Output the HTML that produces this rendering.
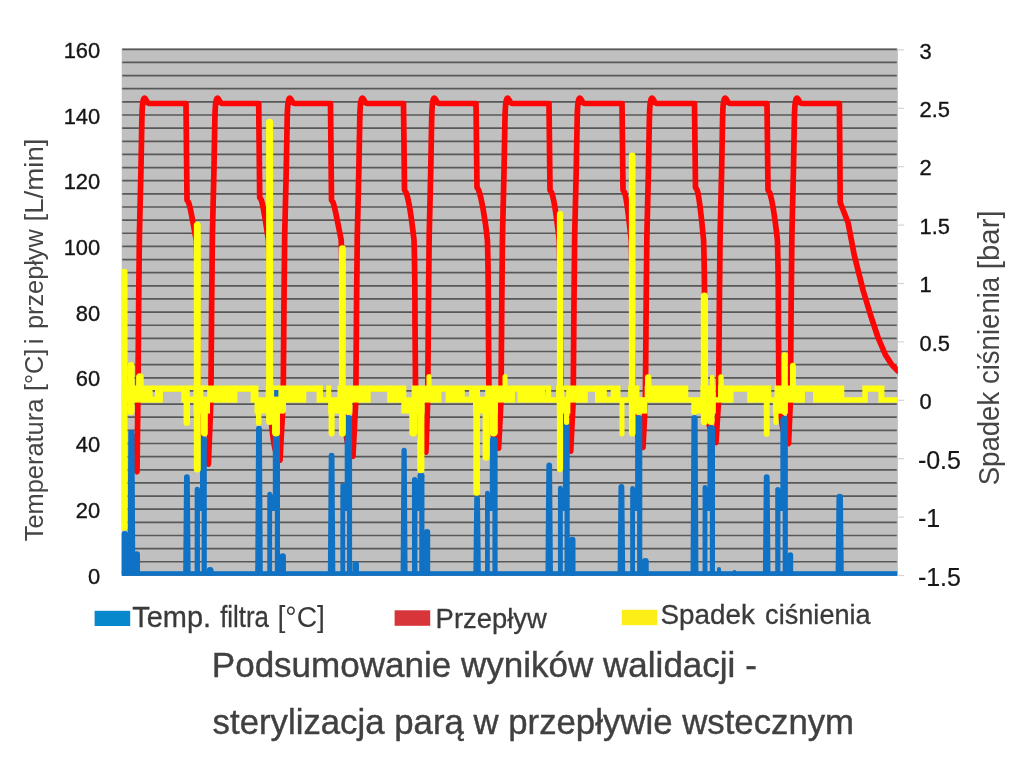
<!DOCTYPE html>
<html lang="pl">
<head>
<meta charset="utf-8">
<title>Podsumowanie wyników walidacji - sterylizacja parą w przepływie wstecznym</title>
<style>
html,body{margin:0;padding:0;background:#fff;}
body{width:1024px;height:782px;overflow:hidden;position:relative;font-family:"Liberation Sans",sans-serif;}
svg{position:absolute;left:0;top:0;display:block;}
text{font-family:"Liberation Sans",sans-serif;}
</style>
</head>
<body>
<svg width="1024" height="782" viewBox="0 0 1024 782">
<rect x="0" y="0" width="1024" height="782" fill="#ffffff"/>
<rect x="121.7" y="48.5" width="776.2" height="527.1" fill="#c0c0c0"/>
<g stroke="#585858" stroke-width="1.7">
<line x1="122.2" x2="896.8" y1="49.30" y2="49.30"/>
<line x1="122.2" x2="896.8" y1="62.44" y2="62.44"/>
<line x1="122.2" x2="896.8" y1="75.58" y2="75.58"/>
<line x1="122.2" x2="896.8" y1="88.72" y2="88.72"/>
<line x1="122.2" x2="896.8" y1="101.86" y2="101.86"/>
<line x1="122.2" x2="896.8" y1="115.00" y2="115.00"/>
<line x1="122.2" x2="896.8" y1="128.14" y2="128.14"/>
<line x1="122.2" x2="896.8" y1="141.28" y2="141.28"/>
<line x1="122.2" x2="896.8" y1="154.42" y2="154.42"/>
<line x1="122.2" x2="896.8" y1="167.56" y2="167.56"/>
<line x1="122.2" x2="896.8" y1="180.70" y2="180.70"/>
<line x1="122.2" x2="896.8" y1="193.84" y2="193.84"/>
<line x1="122.2" x2="896.8" y1="206.98" y2="206.98"/>
<line x1="122.2" x2="896.8" y1="220.12" y2="220.12"/>
<line x1="122.2" x2="896.8" y1="233.26" y2="233.26"/>
<line x1="122.2" x2="896.8" y1="246.40" y2="246.40"/>
<line x1="122.2" x2="896.8" y1="259.54" y2="259.54"/>
<line x1="122.2" x2="896.8" y1="272.68" y2="272.68"/>
<line x1="122.2" x2="896.8" y1="285.82" y2="285.82"/>
<line x1="122.2" x2="896.8" y1="298.96" y2="298.96"/>
<line x1="122.2" x2="896.8" y1="312.10" y2="312.10"/>
<line x1="122.2" x2="896.8" y1="325.24" y2="325.24"/>
<line x1="122.2" x2="896.8" y1="338.38" y2="338.38"/>
<line x1="122.2" x2="896.8" y1="351.52" y2="351.52"/>
<line x1="122.2" x2="896.8" y1="364.66" y2="364.66"/>
<line x1="122.2" x2="896.8" y1="377.80" y2="377.80"/>
<line x1="122.2" x2="896.8" y1="390.94" y2="390.94"/>
<line x1="122.2" x2="896.8" y1="404.08" y2="404.08"/>
<line x1="122.2" x2="896.8" y1="417.22" y2="417.22"/>
<line x1="122.2" x2="896.8" y1="430.36" y2="430.36"/>
<line x1="122.2" x2="896.8" y1="443.50" y2="443.50"/>
<line x1="122.2" x2="896.8" y1="456.64" y2="456.64"/>
<line x1="122.2" x2="896.8" y1="469.78" y2="469.78"/>
<line x1="122.2" x2="896.8" y1="482.92" y2="482.92"/>
<line x1="122.2" x2="896.8" y1="496.06" y2="496.06"/>
<line x1="122.2" x2="896.8" y1="509.20" y2="509.20"/>
<line x1="122.2" x2="896.8" y1="522.34" y2="522.34"/>
<line x1="122.2" x2="896.8" y1="535.48" y2="535.48"/>
<line x1="122.2" x2="896.8" y1="548.62" y2="548.62"/>
<line x1="122.2" x2="896.8" y1="561.76" y2="561.76"/>
<line x1="122.2" x2="896.8" y1="574.90" y2="574.90"/>
</g>
<g stroke="#d4d4d4" stroke-width="1.2">
<line x1="897.8" x2="904.3" y1="49.9" y2="49.9"/>
<line x1="897.8" x2="904.3" y1="108.3" y2="108.3"/>
<line x1="897.8" x2="904.3" y1="166.7" y2="166.7"/>
<line x1="897.8" x2="904.3" y1="225.1" y2="225.1"/>
<line x1="897.8" x2="904.3" y1="283.5" y2="283.5"/>
<line x1="897.8" x2="904.3" y1="341.9" y2="341.9"/>
<line x1="897.8" x2="904.3" y1="400.3" y2="400.3"/>
<line x1="897.8" x2="904.3" y1="458.7" y2="458.7"/>
<line x1="897.8" x2="904.3" y1="517.1" y2="517.1"/>
<line x1="897.8" x2="904.3" y1="575.5" y2="575.5"/>
</g>
<clipPath id="plotclip"><rect x="121.2" y="48.3" width="776.5999999999999" height="527.6"/></clipPath>
<g clip-path="url(#plotclip)">
<path d="M132.6,436 C133.2,452 134.5,466 137.0,471.7 L137.9,400 L138.7,300 L139.4,235 L140.9,172 L141.9,118 C142.2,104 142.9,98.1 144.5,98.1 C146.0,98.1 146.7,103.5 149.5,103.5 L186.0,103.5 L187.0,200.0 L188.6,202.5 C191.0,209.0 194.1,230.0 196.3,240 C197.1,265 197.3,295 197.3,323 L197.8,385 C198.5,436.0 203.4,461.0 208.4,464.0 L210.9,400 L211.7,300 L212.4,235 L213.9,172 L214.9,118 C215.2,104 215.9,98.1 217.5,98.1 C219.0,98.1 219.7,103.5 222.5,103.5 L258.7,103.5 L259.7,197.5 L261.3,200.0 C263.7,206.5 266.3,227.5 268.5,240 C269.3,265 269.5,295 269.5,323 L270.0,385 C270.7,432.0 275.0,457.0 280.0,460.0 L283.2,400 L284.0,300 L284.7,235 L286.2,172 L287.2,118 C287.5,104 288.2,98.1 289.8,98.1 C291.3,98.1 292.0,103.5 294.8,103.5 L330.5,103.5 L331.5,200.0 L333.1,202.5 C335.5,209.0 339.0,230.0 341.2,240 C342.0,265 342.2,295 342.2,323 L342.7,385 C343.4,428.0 348.0,453.0 353.0,456.0 L355.8,400 L356.6,300 L357.3,235 L358.8,172 L359.8,118 C360.1,104 360.8,98.1 362.4,98.1 C363.9,98.1 364.6,103.5 367.4,103.5 L403.5,103.5 L404.5,190.0 L406.1,192.5 C408.5,199.0 411.8,220.0 414.0,240 C414.8,265 415.0,295 415.0,323 L415.5,385 C416.2,424.0 420.9,449.0 425.9,452.0 L427.7,400 L428.5,300 L429.2,235 L430.7,172 L431.7,118 C432.0,104 432.7,98.1 434.3,98.1 C435.8,98.1 436.5,103.5 439.3,103.5 L476.0,103.5 L477.0,187.5 L478.6,190.0 C481.0,196.5 485.2,217.5 487.4,240 C488.2,265 488.4,295 488.4,323 L488.9,385 C489.6,420.0 493.6,445.0 498.6,448.0 L501.0,400 L501.8,300 L502.5,235 L504.0,172 L505.0,118 C505.3,104 506.0,98.1 507.6,98.1 C509.1,98.1 509.8,103.5 512.6,103.5 L549.0,103.5 L550.0,190.0 L551.6,192.5 C554.0,199.0 557.0,220.0 559.2,240 C560.0,265 560.2,295 560.2,323 L560.7,385 C561.4,423.0 565.7,448.0 570.7,451.0 L573.2,400 L574.0,300 L574.7,235 L576.2,172 L577.2,118 C577.5,104 578.2,98.1 579.8,98.1 C581.3,98.1 582.0,103.5 584.8,103.5 L622.0,103.5 L623.0,190.0 L624.6,192.5 C627.0,199.0 629.0,220.0 631.2,240 C632.0,265 632.2,295 632.2,323 L632.7,385 C633.4,419.3 638.0,444.3 643.0,447.3 L645.4,400 L646.2,300 L646.9,235 L648.4,172 L649.4,118 C649.7,104 650.4,98.1 652.0,98.1 C653.5,98.1 654.2,103.5 657.0,103.5 L694.5,103.5 L695.5,187.5 L697.1,190.0 C699.5,196.5 701.4,217.5 703.6,240 C704.4,265 704.6,295 704.6,323 L705.1,385 C705.8,414.4 711.0,439.4 716.0,442.4 L718.6,400 L719.4,300 L720.1,235 L721.6,172 L722.6,118 C722.9,104 723.6,98.1 725.2,98.1 C726.7,98.1 727.4,103.5 730.2,103.5 L767.0,103.5 L768.0,190.0 L769.6,192.5 C772.0,199.0 775.2,220.0 777.4,240 C778.2,265 778.4,295 778.4,323 L778.9,385 C779.6,415.4 783.6,440.4 788.6,443.4 L790.4,400 L791.2,300 L791.9,235 L793.4,172 L794.4,118 C794.7,104 795.4,98.1 797.0,98.1 C798.5,98.1 799.2,103.5 802.0,103.5 L839.4,103.5 L840.2,202.5 L848,222.5 L854.25,255 L863,290 L870.5,315 L878,337.5 L885.5,355 L892,365 L898.5,371.5" fill="none" stroke="#fb0505" stroke-width="5.7" stroke-linejoin="round" stroke-linecap="round"/>
<g stroke="#1072c4" stroke-linecap="round">
<line x1="124.8" x2="124.8" y1="534.3" y2="573" stroke-width="6.6"/>
<path d="M127.45,573 L128.30,432.8 A3.10,3.10 0 0 1 134.50,432.8 L135.35,573 Z" fill="#1072c4" stroke="none"/>
<line x1="136.9" x2="136.9" y1="554.4" y2="573" stroke-width="6.2"/>
<path d="M183.15,573 L184.00,477.1 A2.90,2.90 0 0 1 189.80,477.1 L190.65,573 Z" fill="#1072c4" stroke="none"/>
<line x1="197.3" x2="197.3" y1="489.5" y2="573" stroke-width="5.3"/>
<line x1="203.4" x2="203.4" y1="439.4" y2="511" stroke-width="6.8" stroke-linecap="butt"/>
<circle cx="203.4" cy="439.4" r="3.40" fill="#1072c4" stroke="none"/>
<line x1="204.20" x2="204.20" y1="508" y2="573" stroke-width="5.2" stroke-linecap="butt"/>
<line x1="210.2" x2="210.2" y1="570.4" y2="573" stroke-width="6.8"/>
<path d="M255.20,573 L256.05,428.8 A2.95,2.95 0 0 1 261.95,428.8 L262.80,573 Z" fill="#1072c4" stroke="none"/>
<line x1="269.7" x2="269.7" y1="494.2" y2="573" stroke-width="4.9"/>
<line x1="276.4" x2="276.4" y1="393.3" y2="511" stroke-width="7.2" stroke-linecap="butt"/>
<circle cx="276.4" cy="393.3" r="3.60" fill="#1072c4" stroke="none"/>
<line x1="277.40" x2="277.40" y1="508" y2="573" stroke-width="5.2" stroke-linecap="butt"/>
<line x1="282.7" x2="282.7" y1="556.5" y2="573" stroke-width="6.5"/>
<path d="M327.85,573 L328.70,455.6 A2.90,2.90 0 0 1 334.50,455.6 L335.35,573 Z" fill="#1072c4" stroke="none"/>
<line x1="342.8" x2="342.8" y1="485.4" y2="573" stroke-width="4.9"/>
<line x1="348.4" x2="348.4" y1="418.7" y2="511" stroke-width="7.4" stroke-linecap="butt"/>
<circle cx="348.4" cy="418.7" r="3.70" fill="#1072c4" stroke="none"/>
<line x1="349.50" x2="349.50" y1="508" y2="573" stroke-width="5.2" stroke-linecap="butt"/>
<line x1="355.7" x2="355.7" y1="564.3" y2="573" stroke-width="6.6"/>
<path d="M400.60,573 L401.45,450.4 A2.65,2.65 0 0 1 406.75,450.4 L407.60,573 Z" fill="#1072c4" stroke="none"/>
<line x1="414.7" x2="414.7" y1="479.8" y2="573" stroke-width="5.5"/>
<line x1="421" x2="421" y1="475.6" y2="511" stroke-width="6.9" stroke-linecap="butt"/>
<circle cx="421" cy="475.6" r="3.45" fill="#1072c4" stroke="none"/>
<line x1="421.85" x2="421.85" y1="508" y2="573" stroke-width="5.2" stroke-linecap="butt"/>
<line x1="427" x2="427" y1="532.1" y2="573" stroke-width="6.4"/>
<path d="M473.35,573 L474.20,498.6 A2.90,2.90 0 0 1 480.00,498.6 L480.85,573 Z" fill="#1072c4" stroke="none"/>
<line x1="487.4" x2="487.4" y1="493.2" y2="573" stroke-width="4.8"/>
<line x1="493.7" x2="493.7" y1="440.5" y2="511" stroke-width="7.8" stroke-linecap="butt"/>
<circle cx="493.7" cy="440.5" r="3.90" fill="#1072c4" stroke="none"/>
<line x1="495.00" x2="495.00" y1="508" y2="573" stroke-width="5.2" stroke-linecap="butt"/>
<path d="M545.45,573 L546.30,465.4 A2.90,2.90 0 0 1 552.10,465.4 L552.95,573 Z" fill="#1072c4" stroke="none"/>
<line x1="560.4" x2="560.4" y1="488.3" y2="573" stroke-width="4.9"/>
<line x1="566.3" x2="566.3" y1="426.4" y2="511" stroke-width="6.8" stroke-linecap="butt"/>
<circle cx="566.3" cy="426.4" r="3.40" fill="#1072c4" stroke="none"/>
<line x1="567.10" x2="567.10" y1="508" y2="573" stroke-width="5.2" stroke-linecap="butt"/>
<line x1="572.3" x2="572.3" y1="539.9" y2="573" stroke-width="6.4"/>
<path d="M617.60,573 L618.45,486.9 A2.95,2.95 0 0 1 624.35,486.9 L625.20,573 Z" fill="#1072c4" stroke="none"/>
<line x1="632.6" x2="632.6" y1="488.4" y2="573" stroke-width="4.9"/>
<line x1="638.7" x2="638.7" y1="418.6" y2="511" stroke-width="7.2" stroke-linecap="butt"/>
<circle cx="638.7" cy="418.6" r="3.60" fill="#1072c4" stroke="none"/>
<line x1="639.70" x2="639.70" y1="508" y2="573" stroke-width="5.2" stroke-linecap="butt"/>
<line x1="645.3" x2="645.3" y1="561.5" y2="573" stroke-width="6.9"/>
<path d="M690.55,573 L691.40,418.1 A3.10,3.10 0 0 1 697.60,418.1 L698.45,573 Z" fill="#1072c4" stroke="none"/>
<line x1="705" x2="705" y1="487.4" y2="573" stroke-width="4.9"/>
<line x1="711.2" x2="711.2" y1="428.8" y2="511" stroke-width="7.6" stroke-linecap="butt"/>
<circle cx="711.2" cy="428.8" r="3.80" fill="#1072c4" stroke="none"/>
<line x1="712.40" x2="712.40" y1="508" y2="573" stroke-width="5.2" stroke-linecap="butt"/>
<line x1="719" x2="719" y1="569.0" y2="573" stroke-width="4"/>
<line x1="734.5" x2="734.5" y1="572.0" y2="573" stroke-width="4"/>
<path d="M762.90,573 L763.75,477.1 A2.95,2.95 0 0 1 769.65,477.1 L770.50,573 Z" fill="#1072c4" stroke="none"/>
<line x1="777.8" x2="777.8" y1="489.5" y2="573" stroke-width="5.2"/>
<line x1="784.1" x2="784.1" y1="419.8" y2="511" stroke-width="7.5" stroke-linecap="butt"/>
<circle cx="784.1" cy="419.8" r="3.75" fill="#1072c4" stroke="none"/>
<line x1="785.25" x2="785.25" y1="508" y2="573" stroke-width="5.2" stroke-linecap="butt"/>
<line x1="790.3" x2="790.3" y1="555.2" y2="573" stroke-width="5.8"/>
<path d="M835.60,573 L836.45,496.9 A3.25,3.25 0 0 1 842.95,496.9 L843.80,573 Z" fill="#1072c4" stroke="none"/>
</g>
<rect x="121.7" y="571.2" width="775.5999999999999" height="4.6" fill="#1072c4"/>
<g fill="#1072c4">
<rect x="197.3" y="489.4" width="6.1" height="21.6"/>
<rect x="269.7" y="494.3" width="6.7" height="16.7"/>
<rect x="342.8" y="485.5" width="5.6" height="25.5"/>
<rect x="414.7" y="479.5" width="6.3" height="31.5"/>
<rect x="487.4" y="493.3" width="6.3" height="17.7"/>
<rect x="560.4" y="488.4" width="5.9" height="22.6"/>
<rect x="632.6" y="488.5" width="6.1" height="22.5"/>
<rect x="705" y="487.5" width="6.2" height="23.5"/>
<rect x="777.8" y="489.4" width="6.3" height="21.6"/>
</g>
<g fill="#ffff10">
<rect x="121.5" y="385.5" width="31.1" height="17.1"/>
<rect x="152.0" y="385.5" width="3.6" height="4.5"/>
<rect x="152.0" y="396.6" width="3.6" height="6.0"/>
<rect x="155.0" y="385.5" width="7.9" height="17.1"/>
<rect x="162.3" y="385.5" width="19.6" height="6.4"/>
<rect x="181.3" y="385.5" width="8.5" height="17.1"/>
<rect x="189.2" y="385.5" width="4.9" height="4.5"/>
<rect x="189.2" y="396.6" width="4.9" height="6.0"/>
<rect x="193.5" y="385.5" width="9.9" height="17.1"/>
<rect x="202.8" y="385.5" width="5.0" height="4.5"/>
<rect x="202.8" y="396.6" width="5.0" height="6.0"/>
<rect x="207.2" y="385.5" width="30.3" height="17.1"/>
<rect x="236.9" y="385.5" width="14.3" height="6.4"/>
<rect x="250.6" y="385.5" width="7.9" height="17.1"/>
<rect x="257.9" y="397.2" width="8.4" height="5.4"/>
<rect x="265.7" y="385.5" width="8.4" height="17.1"/>
<rect x="273.5" y="385.5" width="5.5" height="4.5"/>
<rect x="273.5" y="396.6" width="5.5" height="6.0"/>
<rect x="278.4" y="385.5" width="27.9" height="17.1"/>
<rect x="305.7" y="385.5" width="11.4" height="6.4"/>
<rect x="316.5" y="385.5" width="6.5" height="17.1"/>
<rect x="322.4" y="397.2" width="4.4" height="5.4"/>
<rect x="326.2" y="385.5" width="5.0" height="17.1"/>
<rect x="330.6" y="397.2" width="7.4" height="5.4"/>
<rect x="337.4" y="385.5" width="33.3" height="17.1"/>
<rect x="370.1" y="385.5" width="17.7" height="6.4"/>
<rect x="387.2" y="385.5" width="19.1" height="17.1"/>
<rect x="405.7" y="397.2" width="6.5" height="5.4"/>
<rect x="411.6" y="385.5" width="29.8" height="17.1"/>
<rect x="440.8" y="385.5" width="5.5" height="6.4"/>
<rect x="445.7" y="385.5" width="19.1" height="17.1"/>
<rect x="464.2" y="385.5" width="5.5" height="4.5"/>
<rect x="464.2" y="396.6" width="5.5" height="6.0"/>
<rect x="469.1" y="385.5" width="10.9" height="17.1"/>
<rect x="479.4" y="385.5" width="6.4" height="4.5"/>
<rect x="479.4" y="396.6" width="6.4" height="6.0"/>
<rect x="485.2" y="385.5" width="29.9" height="17.1"/>
<rect x="514.5" y="385.5" width="3.6" height="6.4"/>
<rect x="517.5" y="385.5" width="27.8" height="17.1"/>
<rect x="544.7" y="385.5" width="1.6" height="4.5"/>
<rect x="544.7" y="396.6" width="1.6" height="6.0"/>
<rect x="545.7" y="385.5" width="5.5" height="17.1"/>
<rect x="550.6" y="397.2" width="6.0" height="5.4"/>
<rect x="556.0" y="385.5" width="8.3" height="17.1"/>
<rect x="563.7" y="385.5" width="3.1" height="4.5"/>
<rect x="563.7" y="396.6" width="3.1" height="6.0"/>
<rect x="566.2" y="385.5" width="21.6" height="17.1"/>
<rect x="587.2" y="385.5" width="8.4" height="6.4"/>
<rect x="595.0" y="385.5" width="11.8" height="17.1"/>
<rect x="606.2" y="385.5" width="5.1" height="4.5"/>
<rect x="606.2" y="396.6" width="5.1" height="6.0"/>
<rect x="610.7" y="385.5" width="9.8" height="17.1"/>
<rect x="619.9" y="397.2" width="8.8" height="5.4"/>
<rect x="628.1" y="385.5" width="11.4" height="17.1"/>
<rect x="638.9" y="397.2" width="6.4" height="5.4"/>
<rect x="644.7" y="385.5" width="43.6" height="17.1"/>
<rect x="687.7" y="397.2" width="13.3" height="5.4"/>
<rect x="700.4" y="385.5" width="15.2" height="17.1"/>
<rect x="715.0" y="397.2" width="3.6" height="5.4"/>
<rect x="718.0" y="385.5" width="15.6" height="17.1"/>
<rect x="733.0" y="385.5" width="14.8" height="6.4"/>
<rect x="747.2" y="385.5" width="24.0" height="17.1"/>
<rect x="770.6" y="397.2" width="4.5" height="5.4"/>
<rect x="774.5" y="385.5" width="30.4" height="17.1"/>
<rect x="804.3" y="385.5" width="9.4" height="6.4"/>
<rect x="813.1" y="385.5" width="31.2" height="17.1"/>
<rect x="843.7" y="397.2" width="19.2" height="5.4"/>
<rect x="862.3" y="385.5" width="5.5" height="17.1"/>
<rect x="867.2" y="385.5" width="11.8" height="6.4"/>
<rect x="878.4" y="385.5" width="6.0" height="17.1"/>
<rect x="883.8" y="397.2" width="14.3" height="5.4"/>
<rect x="193.6" y="400" width="16.4" height="13.6"/>
<rect x="254.5" y="400" width="30.0" height="13.6"/>
<rect x="328.2" y="400" width="24.1" height="13.6"/>
<rect x="401.3" y="400" width="23.1" height="13.6"/>
<rect x="473" y="400" width="24.8" height="13.6"/>
<rect x="556.8" y="400" width="13.6" height="13.6"/>
<rect x="629" y="400" width="18.5" height="13.6"/>
<rect x="691.4" y="400" width="24.4" height="13.6"/>
<rect x="772.9" y="400" width="14.6" height="13.6"/>
</g>
<g stroke="#ffff10" stroke-linecap="round">
<line x1="124.3" x2="124.3" y1="272.0" y2="527.5" stroke-width="6.5"/>
<line x1="130.9" x2="130.9" y1="365.6" y2="411.4" stroke-width="7.2"/>
<line x1="139.9" x2="139.9" y1="377.0" y2="396.2" stroke-width="7.6"/>
<line x1="186.8" x2="186.8" y1="402.2" y2="422.8" stroke-width="6.5"/>
<line x1="197.3" x2="197.3" y1="225.3" y2="469.0" stroke-width="7"/>
<line x1="204.4" x2="204.4" y1="402.4" y2="433.1" stroke-width="6.8"/>
<line x1="258.7" x2="258.7" y1="401.8" y2="423.1" stroke-width="5.5"/>
<line x1="269.6" x2="269.6" y1="122.2" y2="421.5" stroke-width="7"/>
<line x1="276" x2="276" y1="403.0" y2="432.5" stroke-width="8"/>
<line x1="283.5" x2="283.5" y1="401.5" y2="410.5" stroke-width="5"/>
<line x1="331.6" x2="331.6" y1="402.0" y2="433.6" stroke-width="6"/>
<line x1="342.4" x2="342.4" y1="248.6" y2="433.2" stroke-width="6.9"/>
<line x1="348.5" x2="348.5" y1="402.5" y2="411.5" stroke-width="7"/>
<line x1="404.9" x2="404.9" y1="401.9" y2="410.1" stroke-width="5.8"/>
<line x1="413.4" x2="413.4" y1="403.1" y2="432.5" stroke-width="8.2"/>
<line x1="420.8" x2="420.8" y1="402.6" y2="469.7" stroke-width="7.2"/>
<line x1="429" x2="429" y1="376.5" y2="392.5" stroke-width="5"/>
<line x1="476.6" x2="476.6" y1="402.3" y2="492.4" stroke-width="6.6"/>
<line x1="486.2" x2="486.2" y1="402.6" y2="457.2" stroke-width="7.2"/>
<line x1="493.6" x2="493.6" y1="403.2" y2="432.4" stroke-width="8.4"/>
<line x1="505" x2="505" y1="376.5" y2="392.5" stroke-width="5"/>
<line x1="560" x2="560" y1="214.1" y2="469.1" stroke-width="6.2"/>
<line x1="566.5" x2="566.5" y1="401.5" y2="422.5" stroke-width="5"/>
<line x1="622" x2="622" y1="401.5" y2="434.1" stroke-width="5"/>
<line x1="632.2" x2="632.2" y1="155.9" y2="433.3" stroke-width="6.6"/>
<line x1="638.5" x2="638.5" y1="402.5" y2="411.5" stroke-width="7"/>
<line x1="648.2" x2="648.2" y1="377.5" y2="391.8" stroke-width="6.4"/>
<line x1="694.5" x2="694.5" y1="401.8" y2="412.2" stroke-width="5.5"/>
<line x1="704.4" x2="704.4" y1="296.1" y2="421.4" stroke-width="7.2"/>
<line x1="711" x2="711" y1="402.5" y2="421.5" stroke-width="7"/>
<line x1="712.3" x2="712.3" y1="377.1" y2="392.7" stroke-width="4.6"/>
<line x1="721" x2="721" y1="377.0" y2="392.3" stroke-width="5.4"/>
<line x1="766.7" x2="766.7" y1="401.9" y2="433.7" stroke-width="5.9"/>
<line x1="776" x2="776" y1="401.5" y2="422.5" stroke-width="5"/>
<line x1="784.6" x2="784.6" y1="355.4" y2="411.9" stroke-width="6.2"/>
<line x1="792.9" x2="792.9" y1="365.8" y2="392.1" stroke-width="5.9"/>
</g>
</g>
<g font-size="21.9px" fill="#161616" stroke="#161616" stroke-width="0.35">
<text x="100.2" y="57.9" text-anchor="end">160</text>
<text x="100.2" y="123.6" text-anchor="end">140</text>
<text x="100.2" y="189.3" text-anchor="end">120</text>
<text x="100.2" y="255.0" text-anchor="end">100</text>
<text x="100.2" y="320.7" text-anchor="end">80</text>
<text x="100.2" y="386.4" text-anchor="end">60</text>
<text x="100.2" y="452.1" text-anchor="end">40</text>
<text x="100.2" y="517.8" text-anchor="end">20</text>
<text x="100.2" y="583.5" text-anchor="end">0</text>
<text x="919.6" y="58.5">3</text>
<text x="919.6" y="116.9">2.5</text>
<text x="919.6" y="175.3">2</text>
<text x="919.6" y="233.7">1.5</text>
<text x="919.6" y="292.1">1</text>
<text x="919.6" y="350.5">0.5</text>
<text x="919.6" y="408.9">0</text>
<text x="917.9" y="468.8" font-size="25px" stroke-width="0.2">-0.5</text>
<text x="917.9" y="527.2" font-size="25px" stroke-width="0.2">-1</text>
<text x="917.9" y="585.6" font-size="25px" stroke-width="0.2">-1.5</text>
</g>
<g fill="#454545" font-size="26px" transform="translate(43,540.7) rotate(-90)">
<text x="-0.6" y="0" textLength="142.6" lengthAdjust="spacingAndGlyphs">Temperatura</text>
<text x="149.6" y="0" textLength="42.4" lengthAdjust="spacingAndGlyphs">[°C]</text>
<text x="196.4" y="0">i</text>
<text x="211.7" y="0" textLength="99.8" lengthAdjust="spacingAndGlyphs">przepływ</text>
<text x="319.2" y="0" textLength="83" lengthAdjust="spacingAndGlyphs">[L/min]</text>
</g>
<g fill="#454545" font-size="29.3px" transform="translate(999.3,483.8) rotate(-90)">
<text x="-1.5" y="0" textLength="208.5" lengthAdjust="spacingAndGlyphs">Spadek ciśnienia</text>
<text x="214.6" y="0" textLength="58.8" lengthAdjust="spacingAndGlyphs">[bar]</text>
</g>
<rect x="94.6" y="610.8" width="35.6" height="15.2" fill="#0788cd"/>
<rect x="394.6" y="610.3" width="35.6" height="15.5" fill="#d8353b"/>
<rect x="621.8" y="609.8" width="35.4" height="15.4" fill="#feee18"/>
<g fill="#3a3a3a" stroke="#3a3a3a" stroke-width="0.3" font-size="29.2px">
<text x="132.3" y="627.2" textLength="78.8" lengthAdjust="spacingAndGlyphs">Temp.</text>
<text x="220.2" y="627.2" textLength="48.8" lengthAdjust="spacingAndGlyphs">filtra</text>
<text x="277.5" y="626.6" textLength="47.5" lengthAdjust="spacingAndGlyphs" stroke="none">[°C]</text>
<text x="435.6" y="627.7" font-size="28.2px" textLength="111.2" lengthAdjust="spacingAndGlyphs">Przepływ</text>
<text x="660.5" y="623.5" font-size="28px" textLength="94.3" lengthAdjust="spacingAndGlyphs">Spadek</text>
<text x="765.1" y="623.5" font-size="28px" textLength="105.6" lengthAdjust="spacingAndGlyphs">ciśnienia</text>
</g>
<g fill="#404040" stroke="#404040" stroke-width="0.4" font-size="35px">
<text x="211.8" y="676.6" textLength="545" lengthAdjust="spacingAndGlyphs">Podsumowanie wyników walidacji -</text>
<text x="212.6" y="733.9" textLength="641.5" lengthAdjust="spacingAndGlyphs">sterylizacja parą w przepływie wstecznym</text>
</g>
</svg>
</body>
</html>
